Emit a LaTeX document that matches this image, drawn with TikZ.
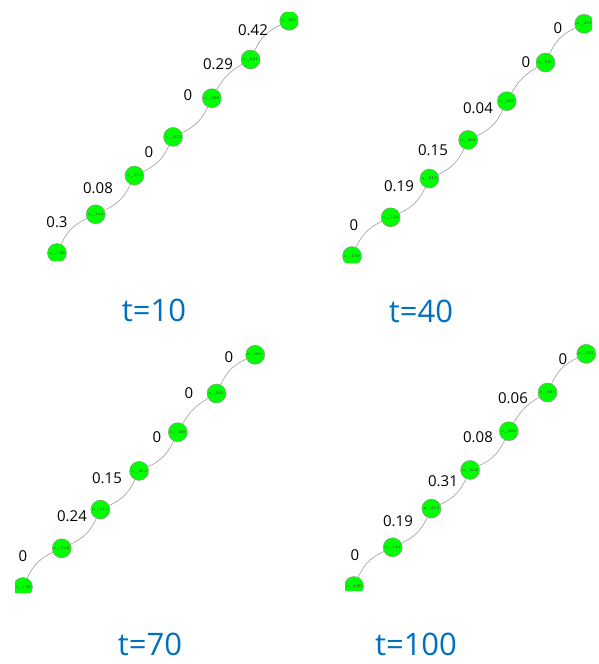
\documentclass[tikz,border=0pt]{standalone}
\usepackage{fontspec}
\newfontfamily\wfont{Open Sans}
\usetikzlibrary{positioning}

\definecolor{capblue}{HTML}{0070C0}
\definecolor{nodegreen}{HTML}{00FF00}

\tikzset{
  vert/.style={circle, draw=black!45, line width=0.4pt, fill=nodegreen,
    minimum size=19pt, inner sep=0pt, text=black!80,
    font=\fontsize{4.2}{5}\selectfont},
  link/.style={draw=black!40, line width=0.55pt},
  weight/.style={font=\wfont\fontsize{15}{17}\selectfont, inner sep=0pt},
  caption/.style={font=\wfont\fontsize{31}{33}\selectfont, text=capblue, inner sep=0pt},
}

\begin{document}
\begin{tikzpicture}[x=1pt,y=-1pt]

\useasboundingbox[fill=white] (0,0) rectangle (598,664);

% ---------- Panel A: t=10 ----------
\begin{scope}[shift={(57,253)}]
  \begin{scope}
    \clip (-10,7) rectangle (241,-241);
    \foreach \n [count=\i from 0] in {130,144,213,462,600,601,261}
      \node[vert] (A\n) at ({\i*38.7},{-\i*38.7}) {o\_\n};
    \foreach \u/\v/\b in {130/144/20, 144/213/-20, 213/462/-20, 462/600/-20, 600/601/15, 601/261/20}
      \draw[link] (A\u) to[bend left=\b] (A\v);
  \end{scope}
  % edge weights
  \foreach \w/\x/\y [count=\k] in {0.3/0/-31, 0.08/41/-65, 0/92/-101, 0/131/-158, 0.29/161/-189, 0.42/196/-223}
    \node[weight] (Aw\k) at (\x,\y) {\w};
\end{scope}
\node[caption] (tA) at (154,310) {t=10};

% ---------- Panel B: t=40 ----------
\begin{scope}[shift={(352,256)}]
  \begin{scope}
    \clip (-10,6) rectangle (240,-243);
    \foreach \n [count=\i from 0] in {130,144,213,462,600,601,261}
      \node[vert] (B\n) at ({\i*38.7},{-\i*38.7}) {o\_\n};
    \foreach \u/\v/\b in {130/144/20, 144/213/-20, 213/462/-20, 462/600/-20, 600/601/15, 601/261/20}
      \draw[link] (B\u) to[bend left=\b] (B\v);
  \end{scope}
  \foreach \w/\x/\y [count=\k] in {0/2/-31, 0.19/47/-70, 0.15/81/-106, 0.04/126/-148, 0/174/-194, 0/206/-228}
    \node[weight] (Bw\k) at (\x,\y) {\w};
\end{scope}
\node[caption] (tB) at (421,311) {t=40};

% ---------- Panel C: t=70 ----------
\begin{scope}[shift={(23,587)}]
  \begin{scope}
    \clip (-8,5) rectangle (242,-245);
    \foreach \n [count=\i from 0] in {130,144,213,462,600,601,261}
      \node[vert] (C\n) at ({\i*38.7},{-\i*38.7}) {o\_\n};
    \foreach \u/\v/\b in {130/144/20, 144/213/-20, 213/462/-20, 462/600/-20, 600/601/15, 601/261/20}
      \draw[link] (C\u) to[bend left=\b] (C\v);
  \end{scope}
  \foreach \w/\x/\y [count=\k] in {0/0/-31, 0.24/49/-71, 0.15/84/-109, 0/134/-150, 0/166/-194, 0/206/-230}
    \node[weight] (Cw\k) at (\x,\y) {\w};
\end{scope}
\node[caption] (tC) at (150,644) {t=70};

% ---------- Panel D: t=100 ----------
\begin{scope}[shift={(354,586)}]
  \begin{scope}
    \clip (-9,4) rectangle (243,-244);
    \foreach \n [count=\i from 0] in {130,144,213,462,600,601,261}
      \node[vert] (D\n) at ({\i*38.7},{-\i*38.7}) {o\_\n};
    \foreach \u/\v/\b in {130/144/20, 144/213/-20, 213/462/-20, 462/600/-20, 600/601/15, 601/261/20}
      \draw[link] (D\u) to[bend left=\b] (D\v);
  \end{scope}
  \foreach \w/\x/\y [count=\k] in {0/1/-31, 0.19/44/-65, 0.31/89/-105, 0.08/124/-149, 0.06/159/-188, 0/209/-227}
    \node[weight] (Dw\k) at (\x,\y) {\w};
\end{scope}
\node[caption] (tD) at (416,644) {t=100};

\end{tikzpicture}
\end{document}
